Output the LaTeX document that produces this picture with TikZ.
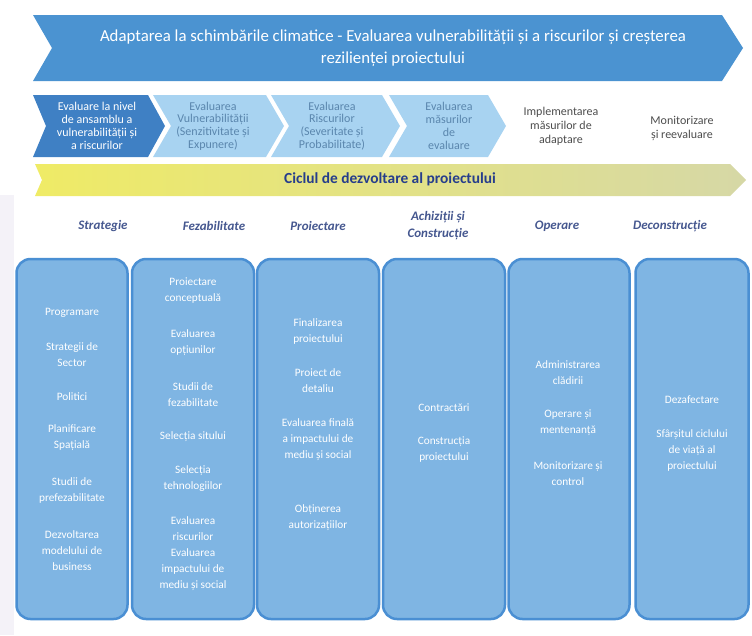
\documentclass[tikz,border=0pt]{standalone}
\usepackage{fontspec}
\setmainfont{Carlito}
\usepackage{tikz}
\usetikzlibrary{positioning}

\definecolor{banblue}{HTML}{4B93D1}
\definecolor{darkchev}{HTML}{3F80C4}
\definecolor{lightchev}{HTML}{A8D3F1}
\definecolor{chevtext}{HTML}{5A86AD}
\definecolor{colfill}{HTML}{7FB5E3}
\definecolor{colline}{HTML}{4A8FD3}
\definecolor{phase}{HTML}{45578F}
\definecolor{cycletext}{HTML}{263D8C}
\definecolor{yelleft}{HTML}{EFEB66}
\definecolor{yelmid}{HTML}{EEEC90}
\definecolor{yelright}{HTML}{D6D8A6}
\definecolor{lav}{HTML}{F4F2F8}

\tikzset{
  coltext/.style={text=white, align=center, font=\fontsize{11.3}{16}\selectfont},
  chevtxt/.style={align=center, font=\fontsize{12}{12.8}\selectfont},
  phaselab/.style={text=phase, align=center, font=\fontsize{13}{17}\selectfont\bfseries\itshape},
  colbox/.style={draw=colline, line width=2.5pt, fill=colfill, rounded corners=14pt, minimum height=360pt}
}

\begin{document}
\begin{tikzpicture}[x=1pt,y=-1pt]
\useasboundingbox (0,0) rectangle (752,635);
\fill[lav] (0,195) rectangle (14,635);

% banner
\fill[banblue] (33,15) -- (722,15) -- (743,48) -- (722,81) -- (33,81) -- (52,48) -- cycle;
\node[text=white, align=center, font=\fontsize{16.8}{22}\selectfont] (title) at (393,48)
  {Adaptarea la schimbările climatice - Evaluarea vulnerabilității și a riscurilor și creșterea\\rezilienței proiectului};

% evaluation steps
\fill[darkchev] (33,95) -- (148,95) -- (165,126) -- (148,157) -- (33,157) -- (46,126) -- cycle;
\foreach \a/\b in {153/266,271/382,389/488}
  \fill[lightchev] (\a,95) -- (\b,95) -- (\b+18,126) -- (\b,157) -- (\a,157) -- (\a+18,126) -- cycle;
\node[chevtxt, text=white] (ev1) at (97,126) {Evaluare la nivel\\de ansamblu a\\vulnerabilității și\\a riscurilor};
\node[chevtxt, text=chevtext] (ev2) at (213,126) {Evaluarea\\Vulnerabilității\\(Senzitivitate și\\Expunere)};
\node[chevtxt, text=chevtext] (ev3) at (332,126) {Evaluarea\\Riscurilor\\(Severitate și\\Probabilitate)};
\node[chevtxt, text=chevtext] (ev4) at (449,126) {Evaluarea\\măsurilor\\de\\evaluare};
\node[chevtxt, text=black!70, font=\fontsize{12}{14}\selectfont] (ev5) at (561,126) {Implementarea\\măsurilor de\\adaptare};
\node[chevtxt, text=black!70, font=\fontsize{12}{14}\selectfont] (ev6) at (682,128) {Monitorizare\\și reevaluare};

% project cycle
\shade[left color=yelleft, middle color=yelmid, right color=yelright]
  (35,164) -- (730,164) -- (746,180) -- (730,196) -- (35,196) -- (42,180) -- cycle;
\node[text=cycletext, font=\fontsize{15.4}{16}\selectfont\bfseries] (cycle) at (390,179) {Ciclul de dezvoltare al proiectului};

% phases
\foreach \n/\x/\y/\t in {1/103/226/Strategie,2/214/226/Fezabilitate,3/318/226/Proiectare,
  4/438/226/{Achiziții și\\Construcție},5/557/226/Operare,6/670/226/Deconstrucție}
  \node[phaselab] (ph\n) at (\x,\y) {\t};

\foreach \n/\x/\w in {1/72/111,2/193/122,3/318/122,4/444/122,5/569/121,6/692/113}
  \node[colbox, minimum width=\w] (col\n) at (\x,439) {};

% column contents
\node[coltext] (s1) at (72,313) {Programare};
\node[coltext] (s2) at (72,355) {Strategii de\\Sector};
\node[coltext] (s3) at (72,397) {Politici};
\node[coltext] (s4) at (72,438) {Planificare\\Spațială};
\node[coltext] (s5) at (72,490) {Studii de\\prefezabilitate};
\node[coltext] (s6) at (72,551) {Dezvoltarea\\modelului de\\business};

\node[coltext] (f1) at (193,291) {Proiectare\\conceptuală};
\node[coltext] (f2) at (193,343) {Evaluarea\\opțiunilor};
\node[coltext] (f3) at (193,395) {Studii de\\fezabilitate};
\node[coltext] (f4) at (193,437) {Selecția sitului};
\node[coltext] (f5) at (193,479) {Selecția\\tehnologiilor};
\node[coltext] (f6) at (193,554) {Evaluarea\\riscurilor\\Evaluarea\\impactului de\\mediu și social};

\node[coltext] (p1) at (318,331) {Finalizarea\\proiectului};
\node[coltext] (p2) at (318,381) {Proiect de\\detaliu};
\node[coltext] (p3) at (318,440) {Evaluarea finală\\a impactului de\\mediu și social};
\node[coltext] (p4) at (318,518) {Obținerea\\autorizațiilor};

\node[coltext] (a1) at (444,408) {Contractări};
\node[coltext] (a2) at (444,450) {Construcția\\proiectului};

\node[coltext] (o1) at (568,373) {Administrarea\\clădirii};
\node[coltext] (o2) at (568,423) {Operare și\\mentenanță};
\node[coltext] (o3) at (568,474) {Monitorizare și\\control};

\node[coltext] (d1) at (692,400) {Dezafectare};
\node[coltext] (d2) at (692,450) {Sfârșitul ciclului\\de viață al\\proiectului};
\end{tikzpicture}
\end{document}
